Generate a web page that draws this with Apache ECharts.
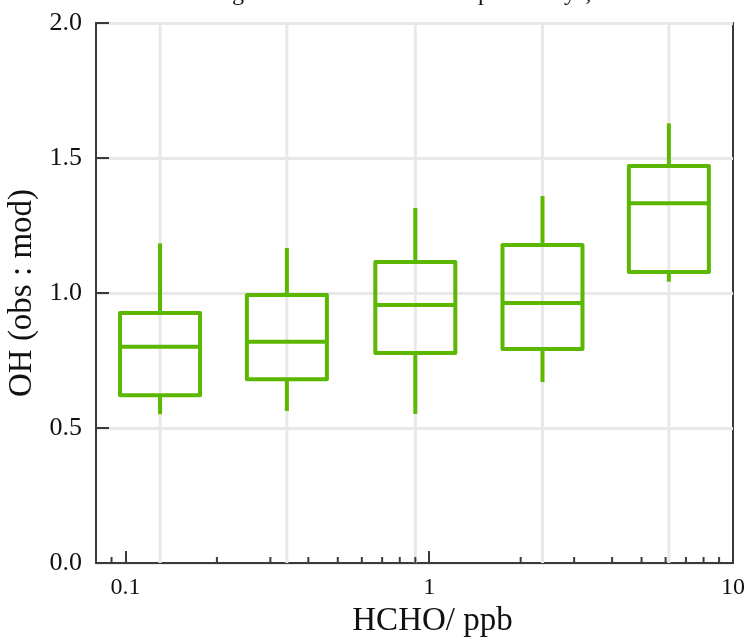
<!DOCTYPE html>
<html>
<head>
<meta charset="utf-8">
<title>OH obs:mod vs HCHO</title>
<script src="https://cdn.jsdelivr.net/npm/echarts@6/dist/echarts.min.js"></script>
<style>
  html, body { margin: 0; padding: 0; background: #fff; }
  #chart { width: 751px; height: 642px; }
</style>
</head>
<body>
<div id="chart"></div>
<script>
// HCHO bin centres (ppb) and the OH observed:modelled ratio statistics per bin
const binCentres   = [0.13, 0.34, 0.90, 2.36, 6.15];
const whiskerLow   = [0.551, 0.563, 0.552, 0.670, 1.042];
const quartileLow  = [0.621, 0.681, 0.778, 0.793, 1.078];
const medians      = [0.801, 0.819, 0.956, 0.963, 1.332];
const quartileHigh = [0.926, 0.993, 1.115, 1.178, 1.470];
const whiskerHigh  = [1.184, 1.167, 1.315, 1.359, 1.628];

// log-axis minor tick values (tens are handled by the axis itself)
const minorTickValues = [0.09, 0.2, 0.3, 0.4, 0.5, 0.6, 0.7, 0.8, 0.9,
                         2, 3, 4, 5, 6, 7, 8, 9];

const titleText = 'above ground level at TORCH special days,';

const GREEN = '#5bb700';
const GRID_GREY = '#e8e8e8';
const FONT = '"Liberation Serif", "DejaVu Serif", serif';

const boxData = binCentres.map((x, i) =>
  [x, whiskerLow[i], quartileLow[i], medians[i], quartileHigh[i], whiskerHigh[i]]);

const chart = echarts.init(document.getElementById('chart'), null, { renderer: 'canvas' });

chart.setOption({
  backgroundColor: '#fff',
  animation: false,
  grid: {
    left: 96, right: 18, top: 23, bottom: 79,
    containLabel: false, outerBoundsMode: 'none',
    show: true, borderColor: '#3a3a3a', borderWidth: 2, backgroundColor: 'transparent'
  },
  graphic: [{
    type: 'text',
    x: 380, y: 6,
    style: {
      text: titleText, font: '24px ' + FONT, fill: '#111',
      textAlign: 'center', textVerticalAlign: 'bottom'
    }
  }],
  xAxis: {
    type: 'log', logBase: 10, min: 0.08, max: 10,
    name: 'HCHO/ ppb', nameLocation: 'middle', nameGap: 42,
    nameTextStyle: { fontFamily: FONT, fontSize: 33, color: '#111', padding: [0, 0, 0, 36] },
    axisLine: { show: true, lineStyle: { color: '#3a3a3a', width: 2 } },
    axisTick: { show: true, inside: true, length: 12, lineStyle: { color: '#3a3a3a', width: 2 } },
    axisLabel: {
      showMinLabel: false, fontFamily: FONT, fontSize: 24, color: '#111', margin: 13,
      formatter: v => String(+v.toPrecision(3))
    },
    splitLine: { show: false },
    minorTick: { show: false }
  },
  yAxis: {
    type: 'value', min: 0, max: 2, interval: 0.5,
    name: 'OH (obs : mod)', nameLocation: 'middle', nameGap: 52,
    nameTextStyle: { fontFamily: FONT, fontSize: 33, color: '#111' },
    axisLine: { show: true, lineStyle: { color: '#3a3a3a', width: 2 } },
    axisTick: { show: true, inside: true, length: 13, lineStyle: { color: '#3a3a3a', width: 2 } },
    axisLabel: {
      fontFamily: FONT, fontSize: 26, color: '#111', margin: 14,
      formatter: v => v.toFixed(1)
    },
    splitLine: { show: true, lineStyle: { color: GRID_GREY, width: 3 } }
  },
  series: [
    {
      // vertical grid lines through each bin centre
      type: 'custom',
      z: 1,
      silent: true,
      data: binCentres.map(x => [x]),
      renderItem: function (params, api) {
        const top = api.coord([api.value(0), 2]);
        const bottom = api.coord([api.value(0), 0]);
        return {
          type: 'line',
          shape: { x1: top[0], y1: top[1], x2: bottom[0], y2: bottom[1] },
          style: { stroke: GRID_GREY, lineWidth: 3 }
        };
      }
    },
    {
      // minor ticks on the logarithmic x axis
      type: 'custom',
      z: 5,
      silent: true,
      data: minorTickValues.map(x => [x]),
      renderItem: function (params, api) {
        const p = api.coord([api.value(0), 0]);
        return {
          type: 'line',
          shape: { x1: p[0], y1: p[1], x2: p[0], y2: p[1] - 6 },
          style: { stroke: '#3a3a3a', lineWidth: 2 }
        };
      }
    },
    {
      // box-and-whisker per HCHO bin
      type: 'custom',
      z: 3,
      data: boxData,
      renderItem: function (params, api) {
        const x = api.value(0);
        const lo = api.coord([x, api.value(1)]);
        const q1 = api.coord([x, api.value(2)]);
        const md = api.coord([x, api.value(3)]);
        const q3 = api.coord([x, api.value(4)]);
        const hi = api.coord([x, api.value(5)]);
        const cx = lo[0];
        const hw = 40;
        const st = { stroke: GREEN, lineWidth: 4, fill: null, lineJoin: 'round' };
        return {
          type: 'group',
          children: [
            { type: 'line', shape: { x1: cx, y1: hi[1], x2: cx, y2: q3[1] }, style: st },
            { type: 'line', shape: { x1: cx, y1: q1[1], x2: cx, y2: lo[1] }, style: st },
            { type: 'rect', shape: { x: cx - hw, y: q3[1], width: 2 * hw, height: q1[1] - q3[1] }, style: st },
            { type: 'line', shape: { x1: cx - hw, y1: md[1], x2: cx + hw, y2: md[1] }, style: st }
          ]
        };
      }
    }
  ]
});
</script>
</body>
</html>
